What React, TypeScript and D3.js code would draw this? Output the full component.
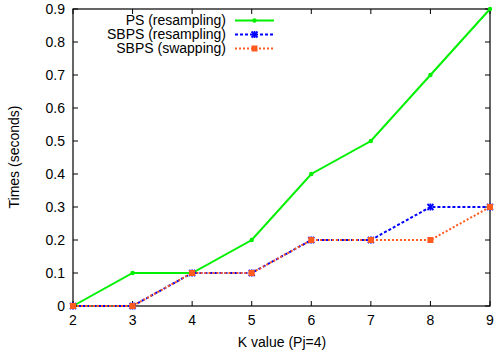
import React from "react";
import * as d3 from "d3";

const kValues = [2, 3, 4, 5, 6, 7, 8, 9];
const psResampling = [0, 0.1, 0.1, 0.2, 0.4, 0.5, 0.7, 0.9];
const sbpsResampling = [0, 0, 0.1, 0.1, 0.2, 0.2, 0.3, 0.3];
const sbpsSwapping = [0, 0, 0.1, 0.1, 0.2, 0.2, 0.2, 0.3];
const yTicks = [0, 0.1, 0.2, 0.3, 0.4, 0.5, 0.6, 0.7, 0.8, 0.9];
const seriesNames = ["PS (resampling)", "SBPS (resampling)", "SBPS (swapping)"];

const W = 495;
const H = 355;
const left = 73;
const right = 490;
const top = 9;
const bottom = 306;
const FONT = "'Liberation Sans', Arial, sans-serif";

type Marker = "plus" | "star" | "square";

const series = [
  { name: seriesNames[0], values: psResampling, color: "#00f000", dash: "", marker: "plus" as Marker },
  { name: seriesNames[1], values: sbpsResampling, color: "#0000ff", dash: "3,2", marker: "star" as Marker },
  { name: seriesNames[2], values: sbpsSwapping, color: "#ff5a1f", dash: "2,2", marker: "square" as Marker },
];

function MarkerShape({ type, x, y, color }: { type: Marker; x: number; y: number; color: string }) {
  if (type === "plus") {
    return <circle cx={x} cy={y} r={2.2} fill={color} />;
  }
  if (type === "star") {
    return (
      <g stroke={color} strokeWidth={1.8}>
        <line x1={x - 3} y1={y - 3} x2={x + 3} y2={y + 3} />
        <line x1={x - 3} y1={y + 3} x2={x + 3} y2={y - 3} />
        <line x1={x} y1={y - 3.5} x2={x} y2={y + 3.5} />
      </g>
    );
  }
  return <rect x={x - 3} y={y - 3} width={6} height={6} fill={color} />;
}

export default function App() {
  const x = d3.scaleLinear().domain([2, 9]).range([left, right]);
  const y = d3.scaleLinear().domain([0, 0.9]).range([bottom, top]);
  const tick = 5;

  return (
    <svg
      width={W}
      height={H}
      style={{ position: "absolute", left: 0, top: 0, background: "#fff" }}
      fontFamily={FONT}
    >
      {/* frame */}
      <rect x={left} y={top} width={right - left} height={bottom - top} fill="none" stroke="#000" strokeWidth={1.2} />

      {/* y ticks, mirrored on the right */}
      {yTicks.map((t) => (
        <g key={"y" + t}>
          <line x1={left} x2={left + tick} y1={y(t)} y2={y(t)} stroke="#000" />
          <line x1={right} x2={right - tick} y1={y(t)} y2={y(t)} stroke="#000" />
          <text x={65} y={y(t)} dy="0.35em" textAnchor="end" fontSize={14} fill="#000">
            {t === 0 ? "0" : t.toFixed(1)}
          </text>
        </g>
      ))}

      {/* x ticks, mirrored on the top */}
      {kValues.map((k) => (
        <g key={"x" + k}>
          <line x1={x(k)} x2={x(k)} y1={bottom} y2={bottom - tick} stroke="#000" />
          <line x1={x(k)} x2={x(k)} y1={top} y2={top + tick} stroke="#000" />
          <text x={x(k)} y={325} textAnchor="middle" fontSize={14} fill="#000">
            {k}
          </text>
        </g>
      ))}

      {/* axis titles */}
      <text x={282} y={347} textAnchor="middle" fontSize={14} fill="#000">
        K value (Pj=4)
      </text>
      <text
        transform={`translate(19,157) rotate(-90)`}
        textAnchor="middle"
        fontSize={14}
        fill="#000"
      >
        Times (seconds)
      </text>

      {/* series */}
      {series.map((s) => {
        const line = d3
          .line<number>()
          .x((_, i) => x(kValues[i]))
          .y((v) => y(v));
        return (
          <g key={s.name}>
            <path d={line(s.values) || ""} fill="none" stroke={s.color} strokeWidth={2} strokeDasharray={s.dash} />
            {s.values.map((v, i) => (
              <MarkerShape key={i} type={s.marker} x={x(kValues[i])} y={y(v)} color={s.color} />
            ))}
          </g>
        );
      })}

      {/* legend */}
      {series.map((s, i) => {
        const ly = 20.5 + i * 14;
        return (
          <g key={"lg" + s.name}>
            <text x={226} y={ly} dy="0.35em" textAnchor="end" fontSize={14} fill="#000">
              {s.name}
            </text>
            <line x1={235} x2={274} y1={ly} y2={ly} stroke={s.color} strokeWidth={2} strokeDasharray={s.dash} />
            <MarkerShape type={s.marker} x={254.5} y={ly} color={s.color} />
          </g>
        );
      })}
    </svg>
  );
}
